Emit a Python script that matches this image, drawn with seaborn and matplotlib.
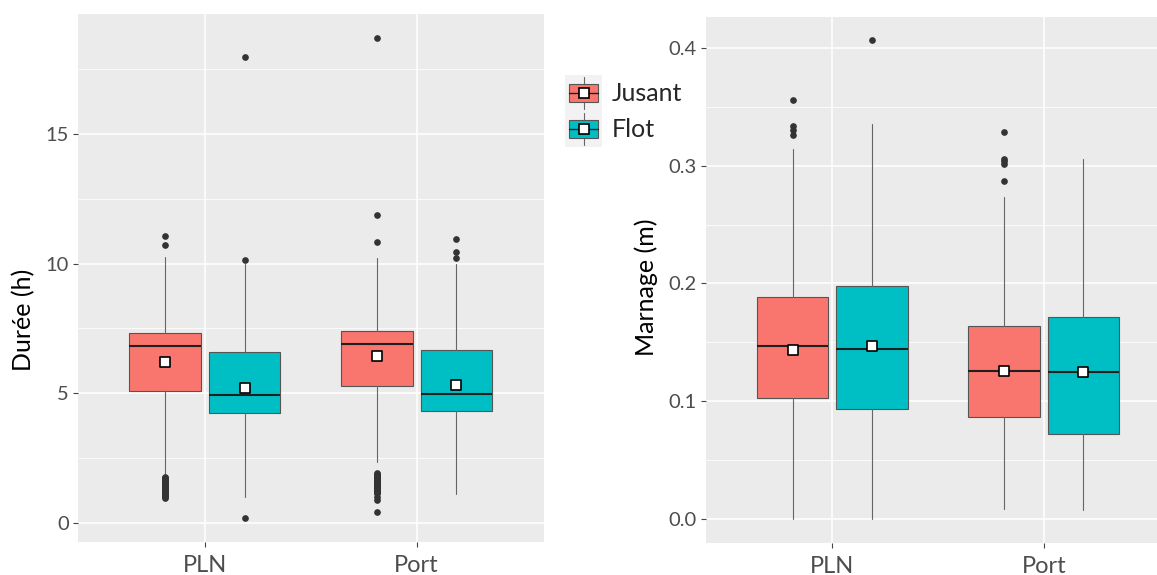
import matplotlib
matplotlib.use("Agg")
import matplotlib.pyplot as plt
from matplotlib.ticker import MultipleLocator, FormatStrFormatter
from matplotlib.legend_handler import HandlerBase
from matplotlib.patches import Rectangle
from matplotlib.lines import Line2D
import seaborn as sns

# ---- data -------------------------------------------------------------
sites = ["PLN", "Port"]
tides = ["Jusant", "Flot"]
tide_colors = ["#F8766D", "#00BFC4"]

# order of groups: PLN-Jusant, PLN-Flot, Port-Jusant, Port-Flot
dur_q1 = [5.09, 4.24, 5.27, 4.33]
dur_med = [6.84, 4.92, 6.91, 4.99]
dur_q3 = [7.34, 6.59, 7.39, 6.66]
dur_whislo = [1.83, 1.00, 2.35, 1.10]
dur_whishi = [10.26, 9.98, 10.22, 9.98]
dur_mean = [6.19, 5.20, 6.42, 5.32]
dur_fliers = [
    [11.08, 10.73,
     1.78, 1.75, 1.72, 1.69, 1.66, 1.63, 1.60, 1.57, 1.54, 1.51, 1.48,
     1.45, 1.42, 1.39, 1.36, 1.33, 1.30, 1.27, 1.24, 1.21, 1.18, 1.15,
     1.12, 1.09, 1.06, 1.03, 1.00, 0.97],
    [17.98, 10.15, 0.19],
    [18.71, 11.89, 10.83,
     1.92, 1.89, 1.86, 1.83, 1.80, 1.77, 1.74, 1.71, 1.68, 1.65, 1.62,
     1.59, 1.56, 1.53, 1.50, 1.47, 1.44, 1.41, 1.38, 1.35, 1.32, 1.29,
     1.26, 1.23, 1.20, 1.17, 1.14, 1.00, 0.90, 0.44],
    [10.97, 10.46, 10.23],
]

mar_q1 = [0.1024, 0.0931, 0.0862, 0.0720]
mar_med = [0.1470, 0.1442, 0.1256, 0.1250]
mar_q3 = [0.1883, 0.1976, 0.1641, 0.1718]
mar_whislo = [0.0, 0.0, 0.0084, 0.0074]
mar_whishi = [0.3140, 0.3357, 0.2736, 0.3056]
mar_mean = [0.1433, 0.1464, 0.1256, 0.1245]
mar_fliers = [
    [0.3560, 0.3335, 0.3304, 0.3257],
    [0.4064],
    [0.3286, 0.3056, 0.3037, 0.3016, 0.2870],
    [],
]

# ---- style ------------------------------------------------------------
sns.set_theme(style="darkgrid", rc={
    "axes.facecolor": "#EBEBEB",
    "grid.color": "white",
    "figure.facecolor": "white",
})
plt.rcParams["font.family"] = ["Lato", "DejaVu Sans"]

W, H = 1157, 575
fig = plt.figure(figsize=(W / 100, H / 100), dpi=100)
ax1 = fig.add_axes([77.7 / W, 1 - 542.0 / H, 466.1 / W, 528.1 / H])
ax2 = fig.add_axes([705.6 / W, 1 - 542.7 / H, 464.9 / W, 526.2 / H])

DODGE = 0.1875
BOX_W = 0.3375


def draw_panel(ax, q1, med, q3, lo, hi, mean, fliers, ylabel,
               major, minor, fmt, label_xy):
    stats, positions, colors = [], [], []
    for s, _ in enumerate(sites):
        for t, _ in enumerate(tides):
            k = s * len(tides) + t
            stats.append(dict(q1=q1[k], med=med[k], q3=q3[k],
                              whislo=lo[k], whishi=hi[k],
                              mean=mean[k], fliers=fliers[k]))
            positions.append(s + (-DODGE if t == 0 else DODGE))
            colors.append(tide_colors[t])

    bp = ax.bxp(stats, positions=positions, widths=BOX_W,
                patch_artist=True, showcaps=False, showmeans=False,
                showfliers=True,
                boxprops=dict(edgecolor="#555555", linewidth=0.8),
                whiskerprops=dict(color="#666666", linewidth=0.8),
                medianprops=dict(color="#1f1f1f", linewidth=1.5),
                flierprops=dict(marker="o", markerfacecolor="#333333",
                                markeredgecolor="#333333", markersize=3.8,
                                linestyle="none"))
    for patch, c in zip(bp["boxes"], colors):
        patch.set_facecolor(c)

    sns.scatterplot(x=positions, y=mean, marker="s", s=48, color="white",
                    edgecolor="black", linewidth=1.2, zorder=6, ax=ax,
                    legend=False)

    values = [v for grp in fliers for v in grp] + list(lo) + list(hi)
    vmin, vmax = min(values), max(values)
    pad = 0.05 * (vmax - vmin)
    ax.set_ylim(vmin - pad, vmax + pad)
    ax.set_xlim(-0.6, len(sites) - 0.4)

    ax.set_xticks(range(len(sites)))
    ax.set_xticklabels(sites)
    ax.yaxis.set_major_locator(MultipleLocator(major))
    ax.yaxis.set_minor_locator(MultipleLocator(minor))
    ax.yaxis.set_major_formatter(FormatStrFormatter(fmt))

    ax.grid(which="major", axis="both", color="white", linewidth=1.1)
    ax.grid(which="minor", axis="y", color="white", linewidth=0.55)
    ax.grid(which="minor", axis="x", visible=False)
    ax.set_axisbelow(True)
    for sp in ax.spines.values():
        sp.set_visible(False)

    ax.tick_params(axis="both", which="major", bottom=True, left=True,
                   length=3.5, width=0.8, color="#444444")
    ax.tick_params(axis="both", which="minor", bottom=False, left=False)
    ax.tick_params(axis="y", labelsize=14.5, labelcolor="#4D4D4D", pad=3)
    ax.tick_params(axis="x", labelsize=17, labelcolor="#4D4D4D", pad=6)

    ax.set_xlabel("")
    ax.set_ylabel(ylabel, fontsize=18, color="black", va="center")
    ax.yaxis.set_label_coords(*label_xy)


draw_panel(ax1, dur_q1, dur_med, dur_q3, dur_whislo, dur_whishi, dur_mean,
           dur_fliers, "Durée (h)", 5, 2.5, "%d", (-0.1152, 0.42))
draw_panel(ax2, mar_q1, mar_med, mar_q3, mar_whislo, mar_whishi, mar_mean,
           mar_fliers, "Marnage (m)", 0.1, 0.05, "%.1f", (-0.128, 0.486))


# ---- legend with boxplot-shaped keys ----------------------------------
class BoxKey(HandlerBase):
    def create_artists(self, legend, orig_handle, xdescent, ydescent,
                       width, height, fontsize, trans):
        x0, y0 = -xdescent, -ydescent
        cx, cy = x0 + width / 2, y0 + height / 2
        bw, bh = width * 0.80, height * 0.50
        bg = Rectangle((x0, y0), width, height, facecolor="#F2F2F2",
                       edgecolor="none", transform=trans)
        whisk = Line2D([cx, cx], [y0 + 1.5, y0 + height - 1.5],
                       color="#666666", linewidth=0.8, transform=trans)
        box = Rectangle((cx - bw / 2, cy - bh / 2), bw, bh,
                        facecolor=orig_handle.get_facecolor(),
                        edgecolor="#555555", linewidth=0.8, transform=trans)
        medl = Line2D([cx - bw / 2, cx + bw / 2], [cy, cy], color="#1f1f1f",
                      linewidth=1.0, transform=trans)
        mk = Line2D([cx], [cy], marker="s", markersize=7,
                    markerfacecolor="white", markeredgecolor="black",
                    markeredgewidth=1.2, linestyle="none", transform=trans)
        return [bg, whisk, box, medl, mk]


handles = [Rectangle((0, 0), 1, 1, facecolor=c) for c in tide_colors]
fig.legend(handles, tides, handler_map={Rectangle: BoxKey()},
           loc="upper left", bbox_to_anchor=(565 / W, 1 - 75 / H),
           frameon=False, borderpad=0, borderaxespad=0,
           fontsize=18, handlelength=1.48, handleheight=1.845,
           labelspacing=0.0, handletextpad=0.4)

fig.savefig("out.png", dpi=100)
